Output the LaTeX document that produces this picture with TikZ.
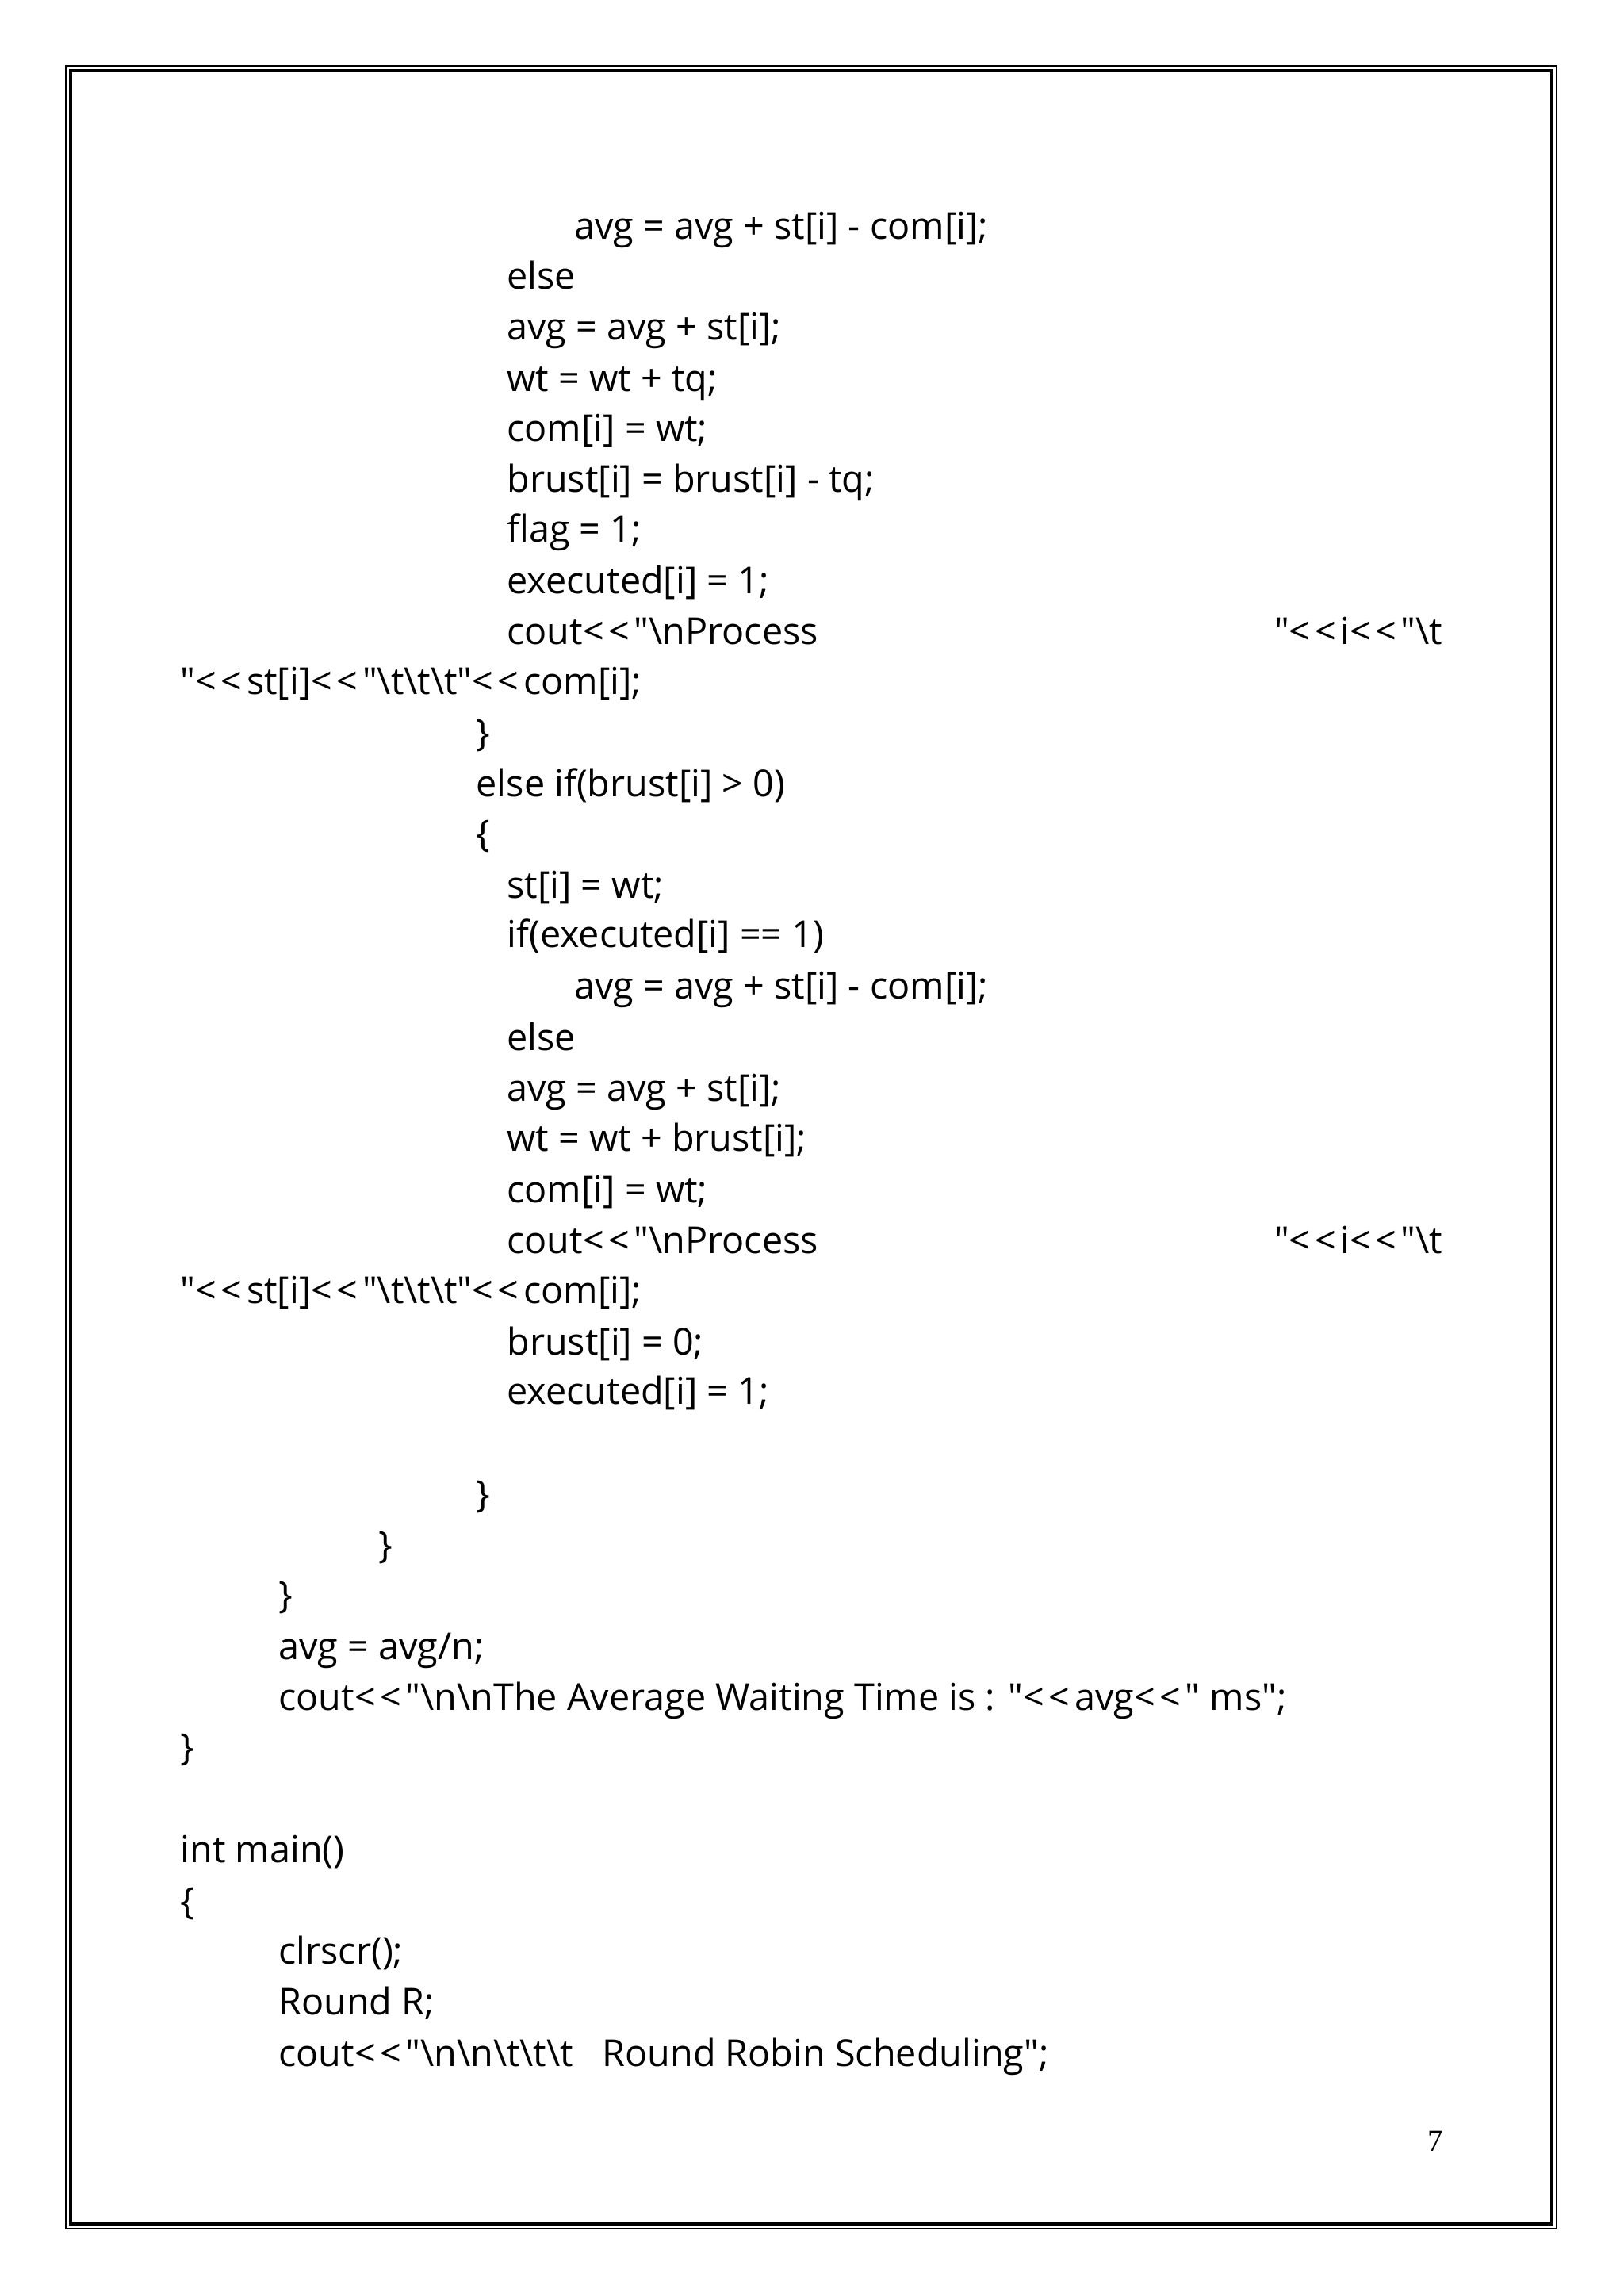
\documentclass[tikz,border=0pt]{standalone}
\usepackage{fontspec}
\setmainfont[Ligatures=NoCommon]{Open Sans}
\newfontfamily\pagenumfont{Liberation Serif}
\newcommand{\q}{\textquotedbl}
\newcommand{\lt}{<\kern0.12em}
\begin{document}
\begin{tikzpicture}[x=0.1847mm,y=-0.1847mm,
  code/.style={anchor=mid west,inner sep=0pt,yshift=-0.75mm,font=\fontsize{13.3pt}{15pt}\selectfont},
  pnum/.style={anchor=mid west,inner sep=0pt,yshift=-0.4mm,font=\pagenumfont\fontsize{11pt}{13pt}\selectfont}]
\useasboundingbox (0,0) rectangle (1109,1568);
\draw[line width=0.5pt] (45,45) rectangle (1063,1522);
\draw[line width=1.2pt] (48,48) rectangle (1060,1519);
\node[code] (l1) at (392,154) {avg = avg + st[i] - com[i];};
\node[code] (l2) at (346,188) {else};
\node[code] (l3) at (346,223) {avg = avg + st[i];};
\node[code] (l4) at (346,258) {wt = wt + tq;};
\node[code] (l5) at (346,292) {com[i] = wt;};
\node[code] (l6) at (346,327) {brust[i] = brust[i] - tq;};
\node[code] (l7) at (346,361) {flag = 1;};
\node[code] (l8) at (346,396) {executed[i] = 1;};
\node[code] (l9) at (346,431) {cout\lt\lt\q\textbackslash nProcess};
\node[code] (l9b) at (870,431) {\q\lt\lt i\lt\lt\q\textbackslash t};
\node[code] (l10) at (123,465) {\q\lt\lt st[i]\lt\lt\q\textbackslash t\textbackslash t\textbackslash t\q\lt\lt com[i];};
\node[code] (l11) at (325,500) {\}};
\node[code] (l12) at (325,535) {else if(brust[i] > 0)};
\node[code] (l13) at (325,569) {\{};
\node[code] (l14) at (346,604) {st[i] = wt;};
\node[code] (l15) at (346,638) {if(executed[i] == 1)};
\node[code] (l16) at (392,673) {avg = avg + st[i] - com[i];};
\node[code] (l17) at (346,708) {else};
\node[code] (l18) at (346,743) {avg = avg + st[i];};
\node[code] (l19) at (346,777) {wt = wt + brust[i];};
\node[code] (l20) at (346,812) {com[i] = wt;};
\node[code] (l21) at (346,847) {cout\lt\lt\q\textbackslash nProcess};
\node[code] (l21b) at (870,847) {\q\lt\lt i\lt\lt\q\textbackslash t};
\node[code] (l22) at (123,881) {\q\lt\lt st[i]\lt\lt\q\textbackslash t\textbackslash t\textbackslash t\q\lt\lt com[i];};
\node[code] (l23) at (346,916) {brust[i] = 0;};
\node[code] (l24) at (346,950) {executed[i] = 1;};
\node[code] (l25) at (325,1020) {\}};
\node[code] (l26) at (258,1055) {\}};
\node[code] (l27) at (190,1089) {\}};
\node[code] (l28) at (190,1124) {avg = avg/n;};
\node[code] (l29) at (190,1159) {cout\lt\lt\q\textbackslash n\textbackslash nThe Average Waiting Time is : \q\lt\lt avg\lt\lt\q{} ms\q;};
\node[code] (l30) at (123,1193) {\}};
\node[code] (l31) at (123,1263) {int main()};
\node[code] (l32) at (123,1298) {\{};
\node[code] (l33) at (190,1332) {clrscr();};
\node[code] (l34) at (190,1367) {Round R;};
\node[code] (l35) at (190,1402) {cout\lt\lt\q\textbackslash n\textbackslash n\textbackslash t\textbackslash t\textbackslash t\ \ \ Round Robin Scheduling\q;};
\node[pnum] (pn) at (975,1462) {7};
\end{tikzpicture}
\end{document}
